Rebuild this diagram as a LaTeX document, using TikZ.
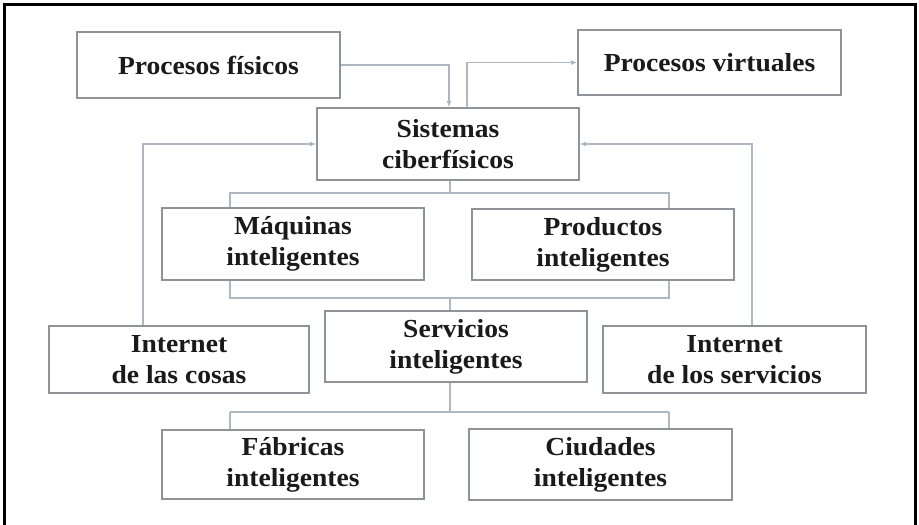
\documentclass[tikz,border=0pt]{standalone}
\usepackage{fontspec}
\setmainfont{Liberation Serif}[FakeStretch=1.06]
\usetikzlibrary{arrows.meta}
\definecolor{boxgray}{HTML}{8E9398}
\definecolor{linkgray}{HTML}{AEB8C2}
\definecolor{ink}{HTML}{1A1A1A}
\begin{document}
\begin{tikzpicture}[x=1pt,y=-1pt,
  box/.style={draw=boxgray, line width=1.6pt, fill=white, align=center,
    inner sep=0pt, text=ink, font=\fontsize{26}{31}\selectfont\bfseries},
  link/.style={draw=linkgray, line width=1.4pt},
  arr/.style={link, -{Latex[length=6pt,width=5pt]}}]
\useasboundingbox (0,0) rectangle (919,525);
\fill[white] (0,0) rectangle (919,525);
% outer frame, open at the bottom
\draw[line width=3pt, black] (4.5,530) -- (4.5,4) -- (915.5,4) -- (915.5,530);

% bracket behind the two middle boxes
\coordinate (bt) at (230,193);
\coordinate (bb) at (669,298);
\draw[link] (bt) rectangle (bb);
% bracket feeding the two bottom boxes
\coordinate (sl) at (230,412);
\coordinate (sr) at (669,412);
\draw[link] (sl) -- (sr);

% boxes
\node[box, minimum width=263, minimum height=66] (pf)   at (208.5,65)   {Procesos físicos};
\node[box, minimum width=263, minimum height=65] (pv)   at (709.5,62.5) {Procesos virtuales};
\node[box, minimum width=262, minimum height=72] (cps)  at (448,144)    {Sistemas\\ciberfísicos};
\node[box, minimum width=262, minimum height=72] (maq)  at (293,244)    {Máquinas\\inteligentes};
\node[box, minimum width=262, minimum height=71] (prod) at (603,244.5)  {Productos\\inteligentes};
\node[box, minimum width=260, minimum height=67] (iot)  at (179,359.5)  {Internet\\de las cosas};
\node[box, minimum width=262, minimum height=71] (serv) at (456,346.5)  {Servicios\\inteligentes};
\node[box, minimum width=263, minimum height=67] (ios)  at (734.5,359.5){Internet\\de los servicios};
\node[box, minimum width=262, minimum height=69] (fab)  at (293,464.5)  {Fábricas\\inteligentes};
\node[box, minimum width=263, minimum height=71] (ciu)  at (600.5,464.5){Ciudades\\inteligentes};

% arrows into and out of the central box
\draw[arr] (pf.east) -| ([xshift=1pt]cps.north);
\draw[arr] ([xshift=19pt]cps.north) |- (pv.west);
\draw[arr] ([xshift=-36pt]iot.north) |- (cps.west);
\draw[arr] ([xshift=17.5pt]ios.north) |- (cps.east);

% vertical trunk
\coordinate (tk) at ([xshift=2pt]cps.south);
\draw[link] (tk) -- (tk |- bt);
\draw[link] (tk |- bb) -- (tk |- serv.north);
\draw[link] (tk |- serv.south) -- (tk |- sl);
\draw[link] (sl) -- (sl |- fab.north);
\draw[link] (sr) -- (sr |- ciu.north);
\end{tikzpicture}
\end{document}
